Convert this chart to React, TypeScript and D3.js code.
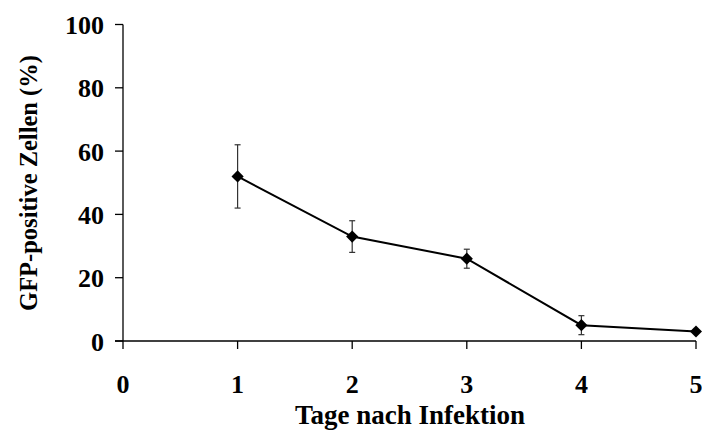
import React from "react";
import * as d3 from "d3";

const days = [1, 2, 3, 4, 5];
const values = [52, 33, 26, 5, 3];
const errors = [10, 5, 3, 3, 0.5];
const xTicks = [0, 1, 2, 3, 4, 5];
const yTicks = [0, 20, 40, 60, 80, 100];
const xTitle = "Tage nach Infektion";
const yTitle = "GFP-positive Zellen (%)";

export default function App() {
  const W = 702, H = 430;
  const x = d3.scaleLinear().domain([0, 5]).range([123, 696]);
  const y = d3.scaleLinear().domain([0, 100]).range([341, 24.5]);
  const line = d3.line<number>().x((_, i) => x(days[i])).y((d) => y(d));
  const font = "'Liberation Serif', 'Times New Roman', serif";
  const diamond = d3.symbol().type(d3.symbolDiamond2).size(95)();
  return (
    <svg width={W} height={H} style={{ position: "absolute", left: 0, top: 0 }}>
      <rect width={W} height={H} fill="white" />
      <line x1={x(0)} x2={x(0)} y1={y(100)} y2={y(0)} stroke="#000" strokeWidth={1.3} />
      <line x1={115} x2={x(5)} y1={y(0)} y2={y(0)} stroke="#000" strokeWidth={1.3} />
      {yTicks.map((t) => (
        <g key={"y" + t}>
          <line x1={115} x2={x(0)} y1={y(t)} y2={y(t)} stroke="#000" strokeWidth={1.3} />
          <text x={104} y={y(t) + 9.5} textAnchor="end" fontFamily={font} fontWeight="bold" fontSize={26}>{t}</text>
        </g>
      ))}
      {xTicks.map((t) => (
        <g key={"x" + t}>
          <line x1={x(t)} x2={x(t)} y1={y(0)} y2={y(0) + 8} stroke="#000" strokeWidth={1.3} />
          <text x={x(t)} y={393} textAnchor="middle" fontFamily={font} fontWeight="bold" fontSize={26}>{t}</text>
        </g>
      ))}
      {days.map((d, i) => (
        <g key={"e" + d} stroke="#333" strokeWidth={1.2}>
          <line x1={x(d)} x2={x(d)} y1={y(values[i] + errors[i])} y2={y(values[i] - errors[i])} />
          <line x1={x(d) - 3} x2={x(d) + 3} y1={y(values[i] + errors[i])} y2={y(values[i] + errors[i])} />
          <line x1={x(d) - 3} x2={x(d) + 3} y1={y(values[i] - errors[i])} y2={y(values[i] - errors[i])} />
        </g>
      ))}
      <path d={line(values) || ""} fill="none" stroke="#000" strokeWidth={2} />
      {days.map((d, i) => (
        <path key={"m" + d} d={diamond || ""} transform={`translate(${x(d)},${y(values[i])})`} fill="#000" />
      ))}
      <text x={410} y={424} textAnchor="middle" fontFamily={font} fontWeight="bold" fontSize={27}>{xTitle}</text>
      <text transform={`translate(37,183) rotate(-90)`} textAnchor="middle" fontFamily={font} fontWeight="bold" fontSize={24.5}>{yTitle}</text>
    </svg>
  );
}
